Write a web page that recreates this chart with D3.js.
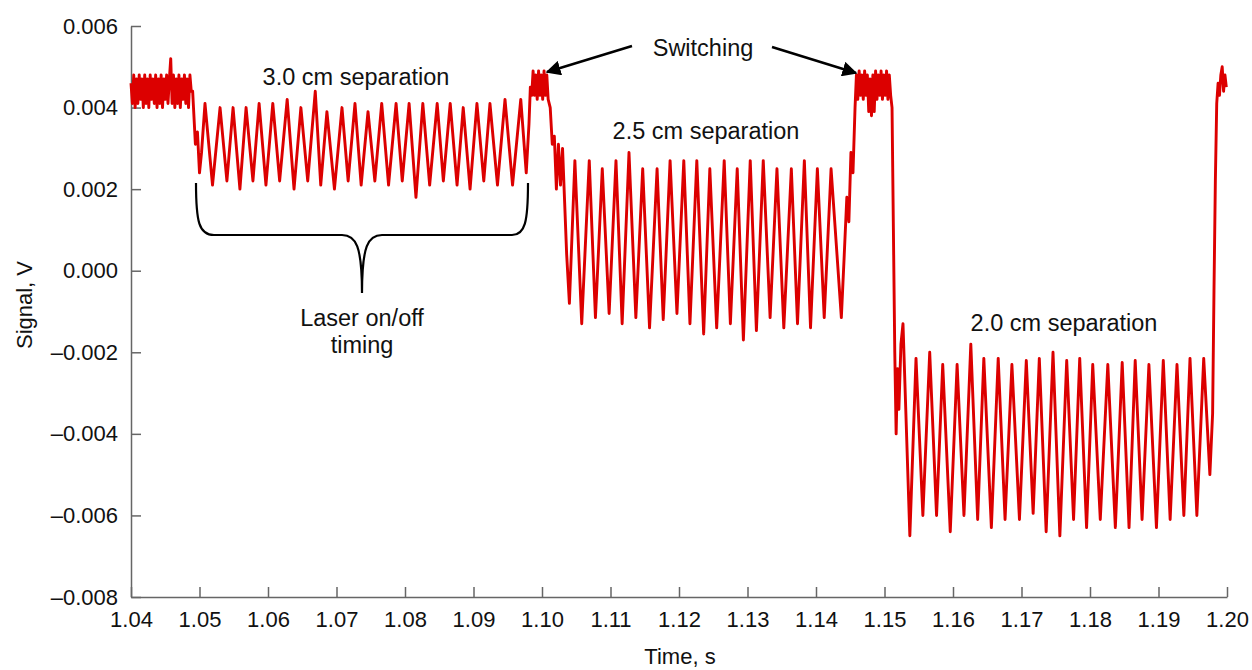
<!DOCTYPE html>
<html>
<head>
<meta charset="utf-8">
<script src="https://cdn.jsdelivr.net/npm/d3@7"></script>
<style>
  body { margin: 0; background: #fff; }
  text { font-family: "Liberation Sans", Arial, sans-serif; fill: #111; }
</style>
</head>
<body>
<script>
// trace, one pair of arrays per stretch of the record
var baseT = [1.0400, 1.0402, 1.0404, 1.0406, 1.0408, 1.0410, 1.0412, 1.0414, 1.0416, 1.0418,
             1.0420, 1.0422, 1.0424, 1.0426, 1.0428, 1.0430, 1.0432, 1.0434, 1.0436, 1.0438,
             1.0440, 1.0442, 1.0444, 1.0446, 1.0448, 1.0450, 1.0452, 1.0454, 1.0456, 1.0458,
             1.0460, 1.0462, 1.0464, 1.0466, 1.0468, 1.0470, 1.0472, 1.0474, 1.0476, 1.0478,
             1.0480, 1.0482, 1.0484, 1.0486, 1.0488];
var baseV = [0.0046, 0.0041, 0.0048, 0.0040, 0.0047, 0.0041, 0.0048, 0.0042, 0.0047, 0.0040,
             0.0048, 0.0041, 0.0047, 0.0040, 0.0048, 0.0042, 0.0047, 0.0041, 0.0048, 0.0040,
             0.0047, 0.0041, 0.0048, 0.0040, 0.0047, 0.0042, 0.0048, 0.0041, 0.0047, 0.0052,
             0.0041, 0.0048, 0.0040, 0.0047, 0.0041, 0.0048, 0.0040, 0.0047, 0.0042, 0.0048,
             0.0041, 0.0047, 0.0040, 0.0048, 0.0044];

var sep30T = [1.0490, 1.0494, 1.0497, 1.0500, 1.0503,
  1.0508, 1.0519, 1.0530, 1.0540, 1.0549, 1.0559, 1.0568, 1.0578, 1.0587, 1.0597, 1.0607, 1.0617,
  1.0628, 1.0638, 1.0648, 1.0658, 1.0669, 1.0677, 1.0686, 1.0697, 1.0708, 1.0717, 1.0727, 1.0736,
  1.0746, 1.0756, 1.0766, 1.0776, 1.0787, 1.0796, 1.0806, 1.0816, 1.0826, 1.0836, 1.0847, 1.0856,
  1.0866, 1.0876, 1.0885, 1.0895, 1.0905, 1.0915, 1.0924, 1.0935, 1.0946, 1.0957, 1.0969, 1.0977];
var sep30V = [0.0044, 0.0031, 0.0034, 0.0024, 0.0029,
  0.0041, 0.0021, 0.0040, 0.0022, 0.0040, 0.0020, 0.0040, 0.0022, 0.0041, 0.0021, 0.0041, 0.0022,
  0.0042, 0.0020, 0.0040, 0.0022, 0.0044, 0.0021, 0.0039, 0.0020, 0.0040, 0.0022, 0.0041, 0.0021,
  0.0039, 0.0022, 0.0041, 0.0021, 0.0041, 0.0022, 0.0041, 0.0018, 0.0041, 0.0021, 0.0041, 0.0022,
  0.0041, 0.0021, 0.0040, 0.0020, 0.0041, 0.0022, 0.0041, 0.0021, 0.0042, 0.0021, 0.0042, 0.0024];

var switchAT = [1.0981, 1.0983, 1.0985, 1.0987, 1.0989, 1.0991, 1.0993, 1.0995, 1.0997, 1.0999,
                1.1001, 1.1003, 1.1005, 1.1007, 1.1009, 1.1012, 1.1015, 1.1018, 1.1021, 1.1024,
                1.1027, 1.1030, 1.1033, 1.1036];
var switchAV = [0.0036, 0.0045, 0.0043, 0.0049, 0.0043, 0.0048, 0.0042, 0.0049, 0.0043, 0.0048,
                0.0042, 0.0049, 0.0043, 0.0048, 0.0042, 0.0040, 0.0031, 0.0033, 0.0020, 0.0031,
                0.0021, 0.0030, 0.0017, 0.0004];

var sep25T = [1.1040, 1.1048, 1.1058, 1.1069, 1.1078, 1.1088, 1.1098, 1.1108, 1.1117, 1.1127, 1.1137,
  1.1147, 1.1157, 1.1168, 1.1177, 1.1187, 1.1197, 1.1207, 1.1216, 1.1226, 1.1236, 1.1245, 1.1255,
  1.1266, 1.1275, 1.1285, 1.1294, 1.1304, 1.1313, 1.1323, 1.1333, 1.1343, 1.1353, 1.1364, 1.1373,
  1.1383, 1.1392, 1.1402, 1.1412, 1.1422, 1.1437];
var sep25V = [-0.0008, 0.0027, -0.0013, 0.0027, -0.00115, 0.0025, -0.00105, 0.0027, -0.0013, 0.0029, -0.00115,
  0.0025, -0.0014, 0.0025, -0.0012, 0.0027, -0.00105, 0.0027, -0.0013, 0.0027, -0.00155, 0.0025, -0.0014,
  0.0027, -0.0013, 0.0025, -0.0017, 0.0027, -0.00147, 0.0027, -0.00115, 0.0025, -0.0014, 0.0025, -0.0013,
  0.0027, -0.0014, 0.0025, -0.00115, 0.0025, -0.00115];

var switchBT = [1.1441, 1.1445, 1.1448, 1.1451, 1.1454, 1.1457, 1.1459,
  1.1461, 1.1463, 1.1465, 1.1467, 1.1469, 1.1471, 1.1473, 1.1475, 1.1477, 1.1479, 1.1481, 1.1483, 1.1485,
  1.1487, 1.1489, 1.1491, 1.1493, 1.1495, 1.1497, 1.1499, 1.1501, 1.1503, 1.1505, 1.1507, 1.1509, 1.1511,
  1.1513, 1.1515, 1.1517, 1.1519, 1.1521, 1.1524];
var switchBV = [0.0003, 0.0018, 0.0012, 0.0029, 0.0024, 0.0040, 0.0048,
  0.0042, 0.0049, 0.0043, 0.0048, 0.0042, 0.0049, 0.0043, 0.0048, 0.0039, 0.0047, 0.0038, 0.0048, 0.0039,
  0.0049, 0.0042, 0.0048, 0.0043, 0.0049, 0.0042, 0.0048, 0.0043, 0.0049, 0.0042, 0.0048, 0.0043, 0.0040,
  0.0010, -0.0020, -0.0040, -0.0024, -0.0034, -0.0018];

var sep20T = [1.1527, 1.1537, 1.1546, 1.1556, 1.1566, 1.1576, 1.1585, 1.1596, 1.1606, 1.1616, 1.1626,
  1.1636, 1.1645, 1.1656, 1.1666, 1.1676, 1.1686, 1.1697, 1.1707, 1.1717, 1.1726, 1.1736, 1.1746,
  1.1756, 1.1766, 1.1776, 1.1785, 1.1795, 1.1804, 1.1815, 1.1826, 1.1837, 1.1847, 1.1857, 1.1866,
  1.1876, 1.1886, 1.1897, 1.1907, 1.1917, 1.1927, 1.1937, 1.1946, 1.1956, 1.1966, 1.1975];
var sep20V = [-0.0013, -0.0065, -0.00215, -0.0060, -0.0020, -0.0060, -0.0023, -0.0064, -0.0023, -0.0060, -0.0018,
  -0.0061, -0.00215, -0.0063, -0.00215, -0.0061, -0.0023, -0.0061, -0.0022, -0.00595, -0.00215, -0.0064, -0.0020,
  -0.0065, -0.0022, -0.0061, -0.00215, -0.0063, -0.0023, -0.0061, -0.0023, -0.0063, -0.00225, -0.0063, -0.0022,
  -0.0061, -0.0023, -0.0063, -0.0022, -0.0061, -0.0023, -0.0060, -0.00215, -0.0060, -0.00215, -0.0050];

var endT = [1.1979, 1.1981, 1.1983, 1.1985, 1.1987, 1.1989, 1.1991, 1.1993, 1.1995, 1.1997, 1.1999];
var endV = [-0.0035, -0.0005, 0.0022, 0.0041, 0.0046, 0.0043, 0.0048, 0.0050, 0.0044, 0.0048, 0.0045];

var xTicks = [1.04, 1.05, 1.06, 1.07, 1.08, 1.09, 1.10, 1.11, 1.12, 1.13, 1.14, 1.15, 1.16, 1.17, 1.18, 1.19, 1.20];
var yTicks = [0.006, 0.004, 0.002, 0.000, -0.002, -0.004, -0.006, -0.008];

var width = 1252, height = 670;
var plotLeft = 131, plotRight = 1227, plotTop = 26, plotBottom = 597;
var red = '#dc0000';

var svg = d3.select("body").append("svg")
    .attr("width", width)
    .attr("height", height)
    .style("background", "#fff");

var x = d3.scaleLinear().domain([1.04, 1.20]).range([plotLeft, plotRight]);
var y = d3.scaleLinear().domain([-0.008, 0.006]).range([plotBottom, plotTop]);

var trace = [];
[[baseT, baseV], [sep30T, sep30V], [switchAT, switchAV], [sep25T, sep25V],
 [switchBT, switchBV], [sep20T, sep20V], [endT, endV]].forEach(function (s) {
    s[0].forEach(function (t, i) { trace.push([t, s[1][i]]); });
});

// axes, ticks point inward
var xAxis = svg.append("g")
    .attr("transform", "translate(0," + plotBottom + ")")
    .call(d3.axisBottom(x).tickValues(xTicks).tickSizeInner(-10).tickSizeOuter(0)
        .tickPadding(14).tickFormat(d3.format(".2f")));
var yAxis = svg.append("g")
    .attr("transform", "translate(" + plotLeft + ",0)")
    .call(d3.axisLeft(y).tickValues(yTicks).tickSizeInner(-10).tickSizeOuter(0)
        .tickPadding(13).tickFormat(function (d) {
            return d3.format(".3f")(Math.abs(d) < 1e-9 ? 0 : d).replace("-", "\u2013").replace("\u2212", "\u2013");
        }));

[xAxis, yAxis].forEach(function (g) {
    g.selectAll("path, line").style("stroke", "#666").style("stroke-width", 1.5);
    g.selectAll("text").style("font-size", "22px").style("fill", "#111")
        .style("font-family", '"Liberation Sans", Arial, sans-serif');
});

svg.append("text")
    .attr("x", 680).attr("y", 664)
    .attr("text-anchor", "middle")
    .style("font-size", "22px")
    .text("Time, s");

svg.append("text")
    .attr("transform", "translate(32,305) rotate(-90)")
    .attr("text-anchor", "middle")
    .style("font-size", "22px")
    .text("Signal, V");

svg.append("path")
    .datum(trace)
    .attr("d", d3.line().x(function (d) { return x(d[0]); }).y(function (d) { return y(d[1]); }))
    .style("fill", "none")
    .style("stroke", red)
    .style("stroke-width", 2.9)
    .style("stroke-linejoin", "round");

// annotations
function label(tx, ty, s) {
    svg.append("text").attr("x", tx).attr("y", ty)
        .attr("text-anchor", "middle")
        .style("font-size", "23.5px")
        .text(s);
}
label(356, 85, "3.0 cm separation");
label(706, 139, "2.5 cm separation");
label(1064, 331, "2.0 cm separation");
label(703, 56, "Switching");
label(362, 326, "Laser on/off");
label(362, 353, "timing");

svg.append("defs").append("marker")
    .attr("id", "head")
    .attr("viewBox", "0 0 10 10")
    .attr("refX", 9).attr("refY", 5)
    .attr("markerWidth", 6).attr("markerHeight", 6)
    .attr("orient", "auto")
    .append("path").attr("d", "M0,0 L10,5 L0,10 z").style("fill", "#000");

svg.append("line")
    .attr("x1", 632).attr("y1", 46).attr("x2", 547).attr("y2", 72)
    .style("stroke", "#000").style("stroke-width", 2.5)
    .attr("marker-end", "url(#head)");
svg.append("line")
    .attr("x1", 772).attr("y1", 47).attr("x2", 856).attr("y2", 73)
    .style("stroke", "#000").style("stroke-width", 2.5)
    .attr("marker-end", "url(#head)");

svg.append("path")
    .attr("d", "M196,183 C196,222 199,235 214,235 L342,235 C356,235 362,246 362,293 " +
               "M362,293 C362,246 368,235 382,235 L512,235 C525,235 528,222 528,183")
    .style("fill", "none")
    .style("stroke", "#000")
    .style("stroke-width", 2.2);
</script>
</body>
</html>
